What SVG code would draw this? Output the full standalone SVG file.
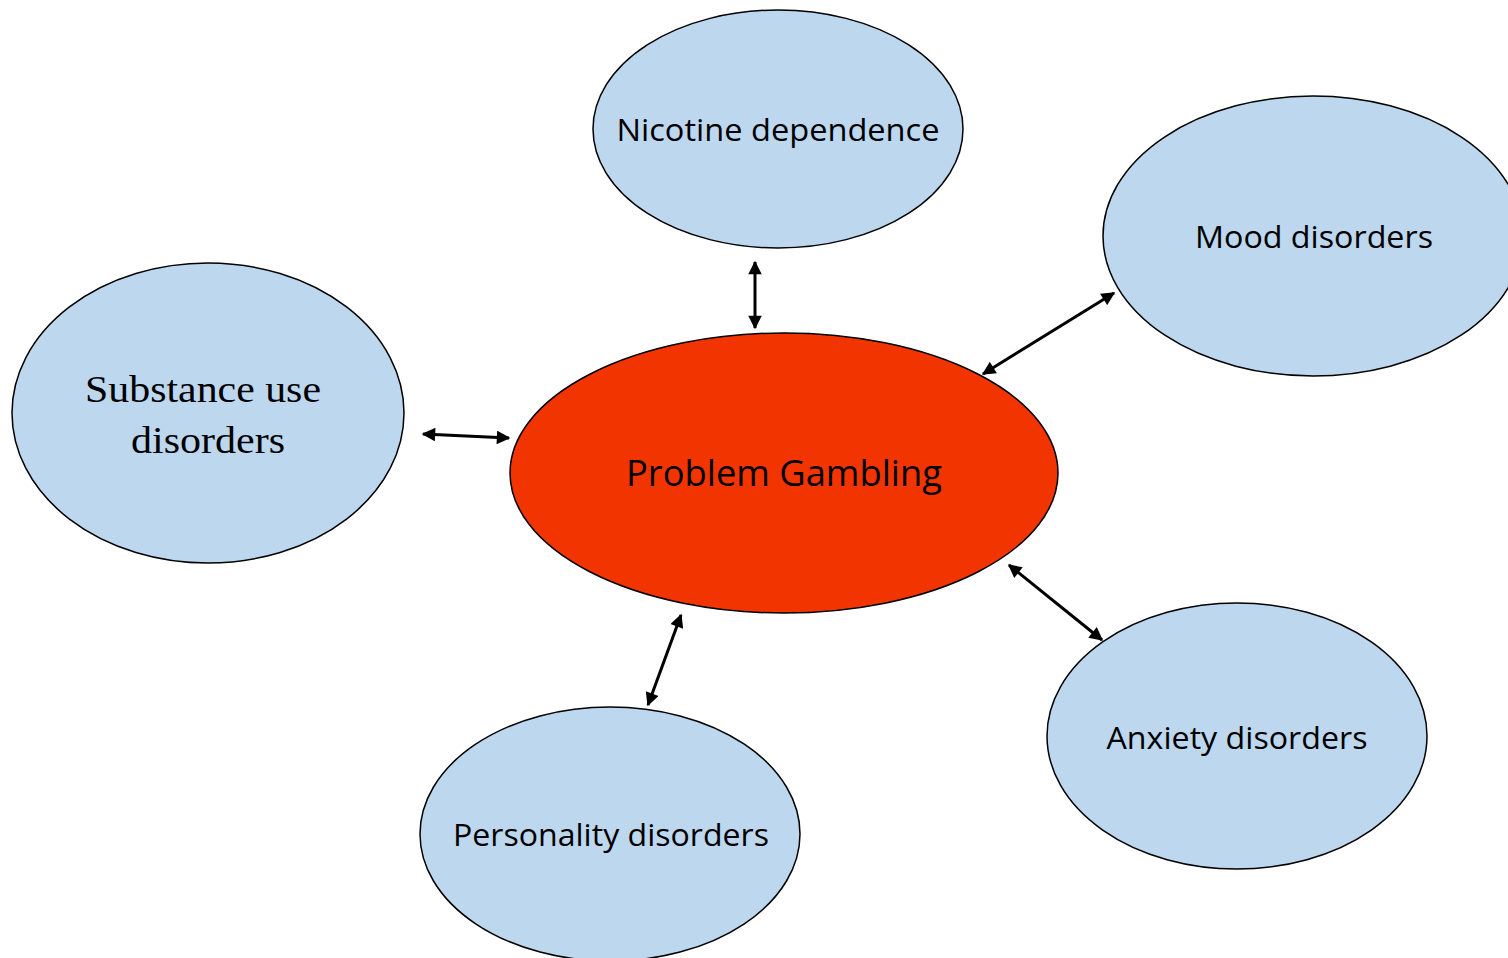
<svg xmlns="http://www.w3.org/2000/svg" width="1508" height="958" viewBox="0 0 1508 958">
<defs>
<marker id="ah" viewBox="0 0 10 10" refX="9" refY="5" markerWidth="5" markerHeight="4.5" orient="auto-start-reverse" markerUnits="strokeWidth">
<path d="M0,0 L10,5 L0,10 z" fill="#000"/>
</marker>
<style>
.n{fill:#BDD7EE;stroke:#000;stroke-width:1.5}
.c{fill:#F23500;stroke:#000;stroke-width:1.5}
.t{font-family:"Open Sans","Noto Sans","Liberation Sans",sans-serif;font-size:31px;fill:#000;text-anchor:middle}
.s{font-family:"Liberation Serif","Times New Roman",serif;font-size:37px;fill:#000;text-anchor:middle}
.a{stroke:#000;stroke-width:3;fill:none;marker-start:url(#ah);marker-end:url(#ah)}
</style>
</defs>
<rect width="1508" height="958" fill="#fff"/>
<g id="connectors">
<line class="a" x1="755" y1="262" x2="755" y2="328"/>
<line class="a" x1="423" y1="434" x2="509" y2="438"/>
<line class="a" x1="983" y1="374" x2="1114" y2="293"/>
<line class="a" x1="1009" y1="565" x2="1102" y2="640"/>
<line class="a" x1="648" y1="705" x2="681" y2="615"/>
</g>
<g id="nicotine">
<ellipse class="n" cx="778" cy="129" rx="185" ry="119"/>
<text class="t" x="778" y="141" textLength="323" lengthAdjust="spacingAndGlyphs">Nicotine dependence</text>
</g>
<g id="mood">
<ellipse class="n" cx="1313" cy="236" rx="210" ry="140"/>
<text class="t" x="1314" y="248" textLength="238" lengthAdjust="spacingAndGlyphs">Mood disorders</text>
</g>
<g id="substance">
<ellipse class="n" cx="208" cy="413" rx="196" ry="150"/>
<text class="s" x="203" y="402" textLength="236" lengthAdjust="spacingAndGlyphs">Substance use</text>
<text class="s" x="208" y="453" textLength="154" lengthAdjust="spacingAndGlyphs">disorders</text>
</g>
<g id="gambling">
<ellipse class="c" cx="784" cy="473" rx="274" ry="140"/>
<text class="t" x="784" y="486" style="font-size:36px" textLength="316" lengthAdjust="spacingAndGlyphs">Problem Gambling</text>
</g>
<g id="anxiety">
<ellipse class="n" cx="1237" cy="736" rx="190" ry="133"/>
<text class="t" x="1237" y="749" textLength="261" lengthAdjust="spacingAndGlyphs">Anxiety disorders</text>
</g>
<g id="personality">
<ellipse class="n" cx="610" cy="834" rx="190" ry="127"/>
<text class="t" x="611" y="846" textLength="316" lengthAdjust="spacingAndGlyphs">Personality disorders</text>
</g>
</svg>
